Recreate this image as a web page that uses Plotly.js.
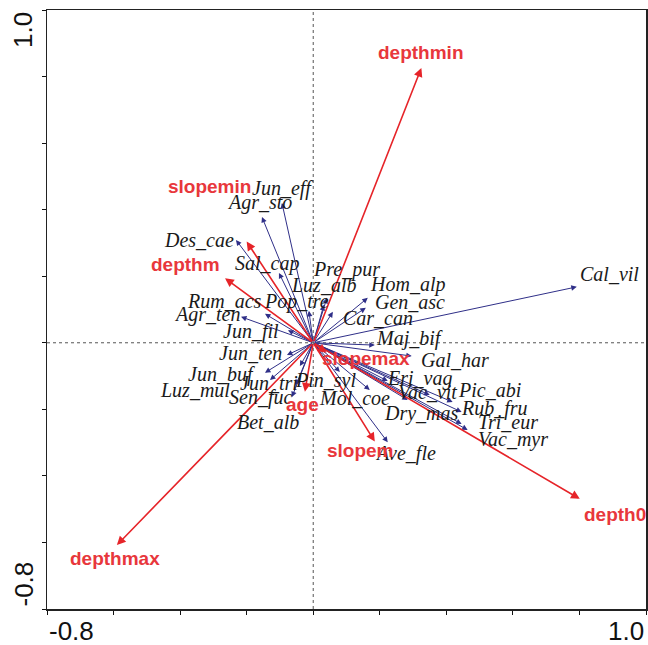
<!DOCTYPE html>
<html>
<head>
<meta charset="utf-8">
<script src="https://cdn.plot.ly/plotly-3.0.1.min.js"></script>
<style>html,body{margin:0;padding:0;background:#fff;}</style>
</head>
<body>
<div id="chart" style="width:648px;height:645px;"></div>
<script>
// Species scores (arrow tips)
var speciesNames = ["Cal_vil","Jun_eff","Agr_sto","Des_cae","Sal_cap","Pre_pur","Luz_alb","Pop_tre","Rum_acs","Agr_ten","Jun_fil","Hom_alp","Gen_asc","Car_can","Maj_bif","Gal_har","Eri_vag","Vac_vit","Pic_abi","Rub_fru","Dry_mas","Tri_eur","Vac_myr","Pin_syl","Mol_coe","Ave_fle","Jun_ten","Jun_buf","Jun_tri","Luz_mul","Sen_fuc","Bet_alb"];
var speciesX = [0.792,-0.094,-0.154,-0.232,-0.103,0.041,0.032,-0.013,-0.145,-0.217,-0.076,0.164,0.158,0.059,0.185,0.296,0.224,0.350,0.419,0.446,0.284,0.446,0.464,0.080,0.170,0.224,-0.079,-0.145,-0.040,-0.130,-0.064,-0.052];
var speciesY = [0.168,0.420,0.378,0.309,0.210,0.135,0.114,0.096,0.087,0.078,0.038,0.135,0.105,0.093,-0.007,-0.040,-0.115,-0.157,-0.178,-0.208,-0.172,-0.244,-0.262,-0.088,-0.142,-0.299,-0.037,-0.090,-0.070,-0.112,-0.163,-0.127];

// Environmental variables (arrow tips)
var envNames = ["depthmin","depth0","depthmax","slopemin","depthm","slopemax","age","slopem"];
var envX = [0.325,0.801,-0.590,-0.200,-0.265,0.040,-0.025,0.185];
var envY = [0.826,-0.469,-0.608,0.304,0.194,-0.030,-0.147,-0.297];

// Axis ticks
var tickVals = [-0.8,-0.6,-0.4,-0.2,0,0.2,0.4,0.6,0.8,1.0];
var tickEndLabels = ["-0.8","1.0"];

// Label offsets from arrow tips (pixels: right, down) -- layout only
var speciesLabelOffset = [[33,-13],[1,-15],[-2,-14],[-37,0],[-12,-9],[20,-28],[0,-20],[-12,-9],[-40,-13],[-34,-2],[-37,1],[40,-13],[44,-6],[45,6],[35,-7],[43,4],[32,-3],[-2,-3],[37,-12],[33,-4],[14,13],[46,-2],[45,10],[-14,8],[-15,8],[18,11],[-36,-2],[-43,2],[-31,17],[-75,10],[-31,0],[-28,37]];
var envLabelOffset = [[0,-15],[35,16],[-2,13],[-37,-55],[-40,-14],[39,6],[-2,13],[-14,9]];

var NAVY = "#2f2f88";
var RED = "#e62429";
var REDTXT = "#e8373c";

var annotations = [];
// species arrows
for (var i = 0; i < speciesNames.length; i++) {
  annotations.push({
    x: speciesX[i], y: speciesY[i], xref: "x", yref: "y",
    ax: 0, ay: 0, axref: "x", ayref: "y",
    text: "", showarrow: true, arrowhead: 2, arrowsize: 1.1, arrowwidth: 1,
    arrowcolor: NAVY, standoff: 0, startstandoff: 0
  });
}
// env arrows
for (var j = 0; j < envNames.length; j++) {
  annotations.push({
    x: envX[j], y: envY[j], xref: "x", yref: "y",
    ax: 0, ay: 0, axref: "x", ayref: "y",
    text: "", showarrow: true, arrowhead: 2, arrowsize: 1.1, arrowwidth: 1.6,
    arrowcolor: RED, standoff: 0, startstandoff: 0
  });
}
// species labels
for (var i = 0; i < speciesNames.length; i++) {
  annotations.push({
    x: speciesX[i], y: speciesY[i], xref: "x", yref: "y",
    xshift: speciesLabelOffset[i][0], yshift: -speciesLabelOffset[i][1],
    text: speciesNames[i], showarrow: false, xanchor: "center", yanchor: "middle",
    font: {family: "Liberation Serif, Times New Roman, serif", size: 20, color: "#1a1a1a", style: "italic"}
  });
}
// env labels
for (var j = 0; j < envNames.length; j++) {
  annotations.push({
    x: envX[j], y: envY[j], xref: "x", yref: "y",
    xshift: envLabelOffset[j][0], yshift: -envLabelOffset[j][1],
    text: "<b>" + envNames[j] + "</b>", showarrow: false, xanchor: "center", yanchor: "middle",
    font: {family: "Liberation Sans, Arial, sans-serif", size: 19, color: REDTXT}
  });
}
// axis end labels
var tickFont = {family: "Liberation Sans, Arial, sans-serif", size: 26, color: "#111"};
annotations.push({x: tickVals[0], y: 0, xref: "x", yref: "paper", yshift: -22, xanchor: "left", yanchor: "middle", showarrow: false, text: tickEndLabels[0], font: tickFont});
annotations.push({x: tickVals[tickVals.length-1], y: 0, xref: "x", yref: "paper", yshift: -22, xanchor: "right", yanchor: "middle", showarrow: false, text: tickEndLabels[1], font: tickFont});
annotations.push({x: 0, y: tickVals[0], xref: "paper", yref: "y", xshift: -24, xanchor: "center", yanchor: "bottom", textangle: -90, showarrow: false, text: tickEndLabels[0], font: tickFont});
annotations.push({x: 0, y: tickVals[tickVals.length-1], xref: "paper", yref: "y", xshift: -24, xanchor: "center", yanchor: "top", textangle: -90, showarrow: false, text: tickEndLabels[1], font: tickFont});

var layout = {
  width: 648, height: 645,
  margin: {l: 47, r: 2, t: 10, b: 36},
  paper_bgcolor: "#fff", plot_bgcolor: "#fff",
  showlegend: false,
  xaxis: {range: [-0.8, 1.0], tickvals: tickVals, showticklabels: false, ticks: "outside", ticklen: 4, tickcolor: "#111",
          showgrid: false, zeroline: false, showline: true, mirror: true, linecolor: "#222", linewidth: 1.5, fixedrange: true},
  yaxis: {range: [-0.8, 1.0], tickvals: tickVals, showticklabels: false, ticks: "outside", ticklen: 4, tickcolor: "#111",
          showgrid: false, zeroline: false, showline: true, mirror: true, linecolor: "#222", linewidth: 1.5, fixedrange: true},
  shapes: [
    {type: "line", xref: "x", yref: "paper", x0: 0, x1: 0, y0: 0, y1: 1, line: {color: "#555", width: 1, dash: "dot"}, layer: "below"},
    {type: "line", xref: "paper", yref: "y", x0: 0, x1: 1, y0: 0, y1: 0, line: {color: "#555", width: 1, dash: "dot"}, layer: "below"}
  ],
  annotations: annotations
};

Plotly.newPlot("chart", [{x: [], y: [], type: "scatter", mode: "markers"}], layout, {displayModeBar: false, staticPlot: true});
</script>
</body>
</html>
